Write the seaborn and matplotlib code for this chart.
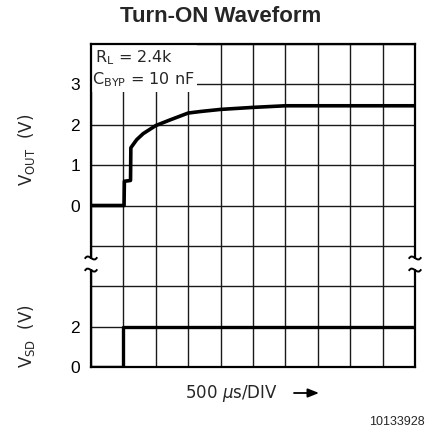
import matplotlib
matplotlib.use("Agg")
import matplotlib.pyplot as plt
from matplotlib.patches import Rectangle, PathPatch, FancyArrowPatch
from matplotlib.path import Path
import seaborn as sns
import pandas as pd

# ---- data (time in microseconds, voltage in volts) ----
t_out = [0, 510, 515, 610, 615, 705, 805, 1000, 1220, 1500, 1700, 2000, 2500, 3000, 5000]
v_out = [0, 0, 0.60, 0.62, 1.43, 1.63, 1.78, 1.98, 2.12, 2.29, 2.33, 2.38, 2.43, 2.47, 2.47]
t_sd = [0, 500, 500, 5000]
v_sd = [0, 0, 2, 2]
vout_ticks = [0, 1, 2, 3]
vsd_ticks = [0, 2]

US_PER_DIV = 500
VOUT_OFFSET_DIV = 4   # VOUT zero sits 4 divisions above bottom, 1 V/div
VSD_V_PER_DIV = 2     # VSD zero at bottom, 2 V/div

sns.set_theme(style="white")
plt.rcParams["font.family"] = ["Liberation Sans", "DejaVu Sans"]
plt.rcParams["mathtext.fontset"] = "custom"
plt.rcParams["mathtext.rm"] = "DejaVu Sans"
plt.rcParams["mathtext.it"] = "DejaVu Sans:italic"

BODY = ["DejaVu Sans"]

W, H = 435, 432
fig = plt.figure(figsize=(W / 100, H / 100), dpi=100)
ax = fig.add_axes([91 / W, 65 / H, 324 / W, 323 / H])

df_out = pd.DataFrame({"x": [t / US_PER_DIV for t in t_out],
                       "y": [v + VOUT_OFFSET_DIV for v in v_out]})
df_sd = pd.DataFrame({"x": [t / US_PER_DIV for t in t_sd],
                      "y": [v / VSD_V_PER_DIV for v in v_sd]})

sns.lineplot(data=df_out, x="x", y="y", ax=ax, color="black", lw=2.6,
             estimator=None, sort=False, zorder=3)
sns.lineplot(data=df_sd, x="x", y="y", ax=ax, color="black", lw=2.4,
             estimator=None, sort=False, zorder=3)

ax.set_xlim(0, 10)
ax.set_ylim(0, 8)
ax.set_xticks(range(0, 11))
ax.set_xticklabels([])
yt = list(range(0, 9))
labels = [""] * 9
for v in vsd_ticks:
    labels[int(v / VSD_V_PER_DIV)] = str(v)
for v in vout_ticks:
    labels[v + VOUT_OFFSET_DIV] = str(v)
ax.set_yticks(yt)
ax.set_yticklabels(labels, fontsize=12.5)
ax.tick_params(axis="both", length=0, pad=8, colors="black")
ax.grid(True, color="#1a1a1a", lw=1.0)
ax.set_axisbelow(True)
for s in ax.spines.values():
    s.set_color("black")
    s.set_linewidth(1.6)
ax.set_xlabel("")
ax.set_ylabel("")

# white legend area hiding the grid
ax.add_patch(Rectangle((0, 6.82), 3.27, 1.18, facecolor="white", edgecolor="none", zorder=1.5))
ax.text(0.13, 7.55, r"$\mathregular{R_L}$ = 2.4k", fontsize=11.5, va="baseline",
        zorder=4, family=BODY)
ax.text(0.03, 7.0, r"$\mathregular{C_{BYP}}$ = 10 nF", fontsize=11.5, va="baseline",
        zorder=4, family=BODY)

# break marks on both edges
codes = [Path.MOVETO, Path.CURVE4, Path.CURVE4, Path.CURVE4]
for xe in (0, 10):
    ax.add_patch(Rectangle((xe - 0.1, 2.42), 0.2, 0.26, facecolor="white",
                           edgecolor="none", zorder=3.5, clip_on=False))
    for yy in (2.70, 2.40):
        verts = [(xe - 0.19, yy - 0.02), (xe - 0.07, yy + 0.16),
                 (xe + 0.07, yy - 0.16), (xe + 0.19, yy + 0.02)]
        ax.add_patch(PathPatch(Path(verts, codes), facecolor="none",
                               edgecolor="black", lw=1.4, zorder=4, clip_on=False))

def fx(px):
    return px / W

def fy(py):
    return 1 - py / H

fig.text(fx(221), fy(16), "Turn-ON Waveform", fontsize=16, fontweight="bold",
         ha="center", va="center")
fig.text(fx(27), fy(150), r"$\mathregular{V_{OUT}}$  (V)", fontsize=12, rotation=90,
         ha="center", va="center", family=BODY)
fig.text(fx(27), fy(336), r"$\mathregular{V_{SD}}$  (V)", fontsize=12, rotation=90,
         ha="center", va="center", family=BODY)
fig.text(fx(185), fy(393), r"500 $\mu$s/DIV", fontsize=12, ha="left", va="center",
         family=BODY)
fig.add_artist(FancyArrowPatch(
    (fx(294), fy(393)), (fx(319), fy(393)), transform=fig.transFigure,
    arrowstyle="-|>,head_length=0.55,head_width=0.22", mutation_scale=12,
    shrinkA=0, shrinkB=0, color="black", lw=1.3))
fig.text(fx(425), fy(422), "10133928", fontsize=9, ha="right", va="center")

fig.savefig("out.png", dpi=100)
